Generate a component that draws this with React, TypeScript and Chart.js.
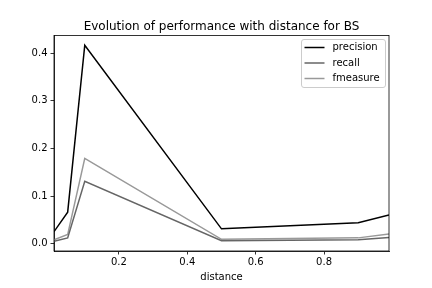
import React, { useEffect, useRef } from "react";
import { Chart, registerables } from "chart.js";

Chart.register(...registerables);

const titleText = "Evolution of performance with distance for BS";
const xLabel = "distance";
const distances = [0.01, 0.05, 0.1, 0.5, 0.9, 0.99];
const precision = [0.025, 0.066, 0.417, 0.031, 0.044, 0.060];
const recall = [0.005, 0.012, 0.131, 0.006, 0.008, 0.013];
const fmeasure = [0.008, 0.019, 0.179, 0.009, 0.012, 0.020];
const seriesNames = ["precision", "recall", "fmeasure"];
const seriesColors = ["#000000", "#666666", "#999999"];
const xTicks = [0.2, 0.4, 0.6, 0.8];
const yTicks = [0.0, 0.1, 0.2, 0.3, 0.4];

const FONT = "'DejaVu Sans', sans-serif";

const frameAndLegend = {
  id: "frameAndLegend",
  afterDraw(chart: any) {
    const ctx = chart.ctx as CanvasRenderingContext2D;
    const ca = chart.chartArea;
    ctx.save();
    // full frame (spines)
    ctx.strokeStyle = "#000000";
    ctx.lineWidth = 0.8;
    ctx.strokeRect(ca.left, ca.top, ca.right - ca.left, ca.bottom - ca.top);

    // legend
    const w = 84;
    const h = 48;
    const bx = Math.round(ca.right - 4 - w) + 0.5;
    const by = Math.round(ca.top + 4) + 0.5;
    ctx.beginPath();
    if ((ctx as any).roundRect) (ctx as any).roundRect(bx, by, w, h, 2.5);
    else ctx.rect(bx, by, w, h);
    ctx.fillStyle = "rgba(255,255,255,0.8)";
    ctx.fill();
    ctx.strokeStyle = "#cccccc";
    ctx.lineWidth = 1;
    ctx.stroke();

    ctx.font = `10px ${FONT}`;
    ctx.textBaseline = "middle";
    ctx.textAlign = "left";
    chart.data.datasets.forEach((ds: any, i: number) => {
      const cy = by + 8 + i * 15.5;
      ctx.beginPath();
      ctx.strokeStyle = ds.borderColor;
      ctx.lineWidth = 1.5;
      ctx.moveTo(bx + 3, cy);
      ctx.lineTo(bx + 23, cy);
      ctx.stroke();
      ctx.fillStyle = "#000000";
      ctx.fillText(ds.label, bx + 31, cy);
    });
    ctx.restore();
  },
};

export default function App() {
  const ref = useRef<HTMLCanvasElement | null>(null);

  useEffect(() => {
    if (!ref.current) return;
    const all = [...precision, ...recall, ...fmeasure];
    const lo = Math.min(...all);
    const hi = Math.max(...all);
    const m = (hi - lo) * 0.05;
    const series = [precision, recall, fmeasure];
    const chart = new Chart(ref.current, {
      type: "line",
      data: {
        datasets: series.map((vals, i) => ({
          label: seriesNames[i],
          data: distances.map((d, j) => ({ x: d, y: vals[j] })),
          borderColor: seriesColors[i],
          backgroundColor: seriesColors[i],
          borderWidth: 1.5,
          pointRadius: 0,
          tension: 0,
          fill: false,
        })),
      },
      options: {
        animation: false,
        responsive: false,
        devicePixelRatio: 1,
        layout: { padding: { left: 0, right: 43, top: 0, bottom: 0 } },
        plugins: {
          legend: { display: false },
          tooltip: { enabled: false },
          title: {
            display: true,
            text: titleText,
            fullSize: false,
            color: "#000000",
            font: { family: FONT, size: 12, weight: "normal" },
            padding: { top: 19.5, bottom: 1.5 },
          },
        },
        scales: {
          x: {
            type: "linear",
            min: distances[0],
            max: distances[distances.length - 1],
            afterBuildTicks: (s: any) => {
              s.ticks = xTicks.map((v) => ({ value: v }));
            },
            afterFit: (s: any) => {
              s.height = 37;
            },
            ticks: {
              autoSkip: false,
              maxRotation: 0,
              padding: 2,
              color: "#000000",
              font: { family: FONT, size: 10 },
              callback: (v: any) => Number(v).toFixed(1),
            },
            grid: {
              drawOnChartArea: false,
              drawTicks: true,
              tickLength: 3.5,
              tickColor: "#000000",
              tickWidth: 0.8,
            },
            border: { color: "#000000", width: 0.8 },
            title: {
              display: true,
              text: xLabel,
              color: "#000000",
              font: { family: FONT, size: 10 },
              padding: { top: 0, bottom: 5 },
            },
          },
          y: {
            type: "linear",
            min: lo - m,
            max: hi + m,
            afterBuildTicks: (s: any) => {
              s.ticks = yTicks.map((v) => ({ value: v }));
            },
            afterFit: (s: any) => {
              s.width = 54;
            },
            ticks: {
              autoSkip: false,
              padding: 3,
              color: "#000000",
              font: { family: FONT, size: 10 },
              callback: (v: any) => Number(v).toFixed(1),
            },
            grid: {
              drawOnChartArea: false,
              drawTicks: true,
              tickLength: 3.5,
              tickColor: "#000000",
              tickWidth: 0.8,
            },
            border: { color: "#000000", width: 0.8 },
          },
        },
      },
      plugins: [frameAndLegend],
    });
    return () => chart.destroy();
  }, []);

  return (
    <div style={{ position: "absolute", left: 0, top: 0, width: 432, height: 288, background: "#ffffff" }}>
      <canvas ref={ref} width={432} height={288} style={{ width: 432, height: 288, display: "block" }} />
    </div>
  );
}
